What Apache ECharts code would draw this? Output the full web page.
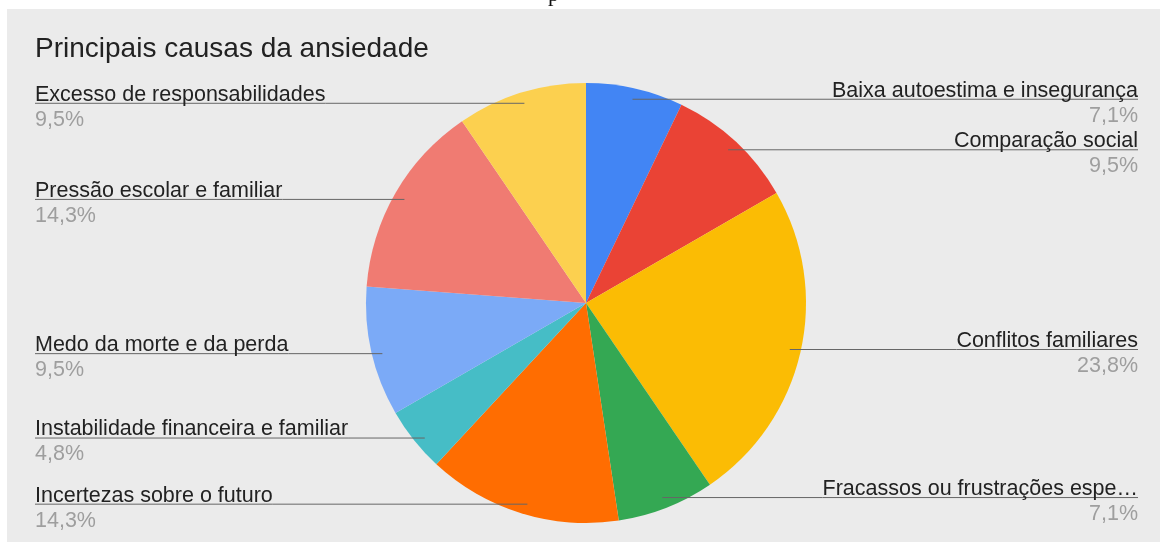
<!DOCTYPE html>
<html>
<head>
<meta charset="utf-8">
<title>Principais causas da ansiedade</title>
<script src="https://cdn.jsdelivr.net/npm/echarts@6/dist/echarts.min.js"></script>
<style>
  html, body { margin: 0; padding: 0; background: #ffffff; }
  #wrap { position: relative; width: 1160px; height: 542px; overflow: hidden; background: #ffffff; }
  #panel { position: absolute; left: 7px; top: 9px; right: 0; bottom: 0; background: #ebebeb; }
  #chart { position: absolute; left: 0; top: 0; width: 1160px; height: 542px; }
</style>
</head>
<body>
<div id="wrap">
  <div id="panel"></div>
  <div id="chart"></div>
</div>
<script>
// Survey answers: how many respondents named each cause (42 in total)
const chartTitle = 'Principais causas da ansiedade';
const categories = [
  'Baixa autoestima e insegurança',
  'Comparação social',
  'Conflitos familiares',
  'Fracassos ou frustrações espe…',
  'Incertezas sobre o futuro',
  'Instabilidade financeira e familiar',
  'Medo da morte e da perda',
  'Pressão escolar e familiar',
  'Excesso de responsabilidades'
];
const counts = [3, 4, 10, 3, 6, 2, 4, 6, 4];
const sliceColors = [
  '#4285f4', '#ea4335', '#fbbc04', '#34a853', '#ff6d01',
  '#46bdc6', '#7baaf7', '#f07b72', '#fcd04f'
];

const total = counts.reduce((a, b) => a + b, 0);
function percentText(v) {
  return (v / total * 100).toFixed(1).replace('.', ',') + '%';
}

// Shared pie geometry for the slice layer and the label layer
const pieBase = {
  type: 'pie',
  left: 13,
  right: 0,
  top: 0,
  bottom: 0,
  center: [573, 303],
  radius: 220,
  startAngle: 90,
  clockwise: true,
  silent: true
};

const chart = echarts.init(document.getElementById('chart'), null, { renderer: 'canvas' });

chart.setOption({
  backgroundColor: 'transparent',
  animation: false,
  graphic: [{
    type: 'text',
    x: 548,
    y: -16,
    silent: true,
    style: { text: 'p', fontSize: 22, fontFamily: 'Liberation Serif', fill: '#111111' }
  }],
  title: {
    text: chartTitle,
    left: 30,
    top: 30,
    textStyle: { fontFamily: 'Liberation Sans', fontSize: 28, fontWeight: 'normal', color: '#222222' }
  },
  series: [
    // coloured slices
    Object.assign({}, pieBase, {
      z: 2,
      data: categories.map((name, i) => ({
        name: name,
        value: counts[i],
        itemStyle: { color: sliceColors[i] }
      })),
      label: { show: false },
      labelLine: { show: false }
    }),
    // labels and leader lines, drawn on top of the slices
    Object.assign({}, pieBase, {
      z: 3,
      avoidLabelOverlap: true,
      data: categories.map((name, i) => ({
        name: name,
        value: counts[i],
        itemStyle: { color: 'rgba(0,0,0,0)' }
      })),
      label: {
        show: true,
        position: 'outside',
        alignTo: 'edge',
        edgeDistance: 22,
        formatter: p => '{n|' + p.name + '}\n{v|' + percentText(p.value) + '}',
        rich: {
          n: { fontFamily: 'Liberation Sans', fontSize: 21.5, lineHeight: 25, color: '#222222' },
          v: { fontFamily: 'Liberation Sans', fontSize: 21.5, lineHeight: 25, color: '#9e9e9e' }
        }
      },
      labelLine: {
        show: true,
        length: 10,
        length2: 10,
        lineStyle: { color: '#666666', width: 1 }
      },
      // Start each leader line just inside its slice and run it under the category name
      labelLayout: function (params) {
        const pts = params.labelLinePoints;
        if (!pts || pts.length < 2) return {};
        const p0 = pts[0], p1 = pts[1];
        const dx = p1[0] - p0[0], dy = p1[1] - p0[1];
        const len = Math.sqrt(dx * dx + dy * dy) || 1;
        const inset = 11;
        const start = [p0[0] - dx / len * inset, p0[1] - dy / len * inset];
        const r = params.labelRect;
        const onRight = start[0] < r.x + r.width / 2;
        const near = onRight ? r.x : r.x + r.width;
        const far = onRight ? r.x + r.width : r.x;
        return {
          y: start[1] + 4,
          labelLinePoints: [start, [near, start[1]], [far, start[1]]]
        };
      }
    })
  ]
});
</script>
</body>
</html>
